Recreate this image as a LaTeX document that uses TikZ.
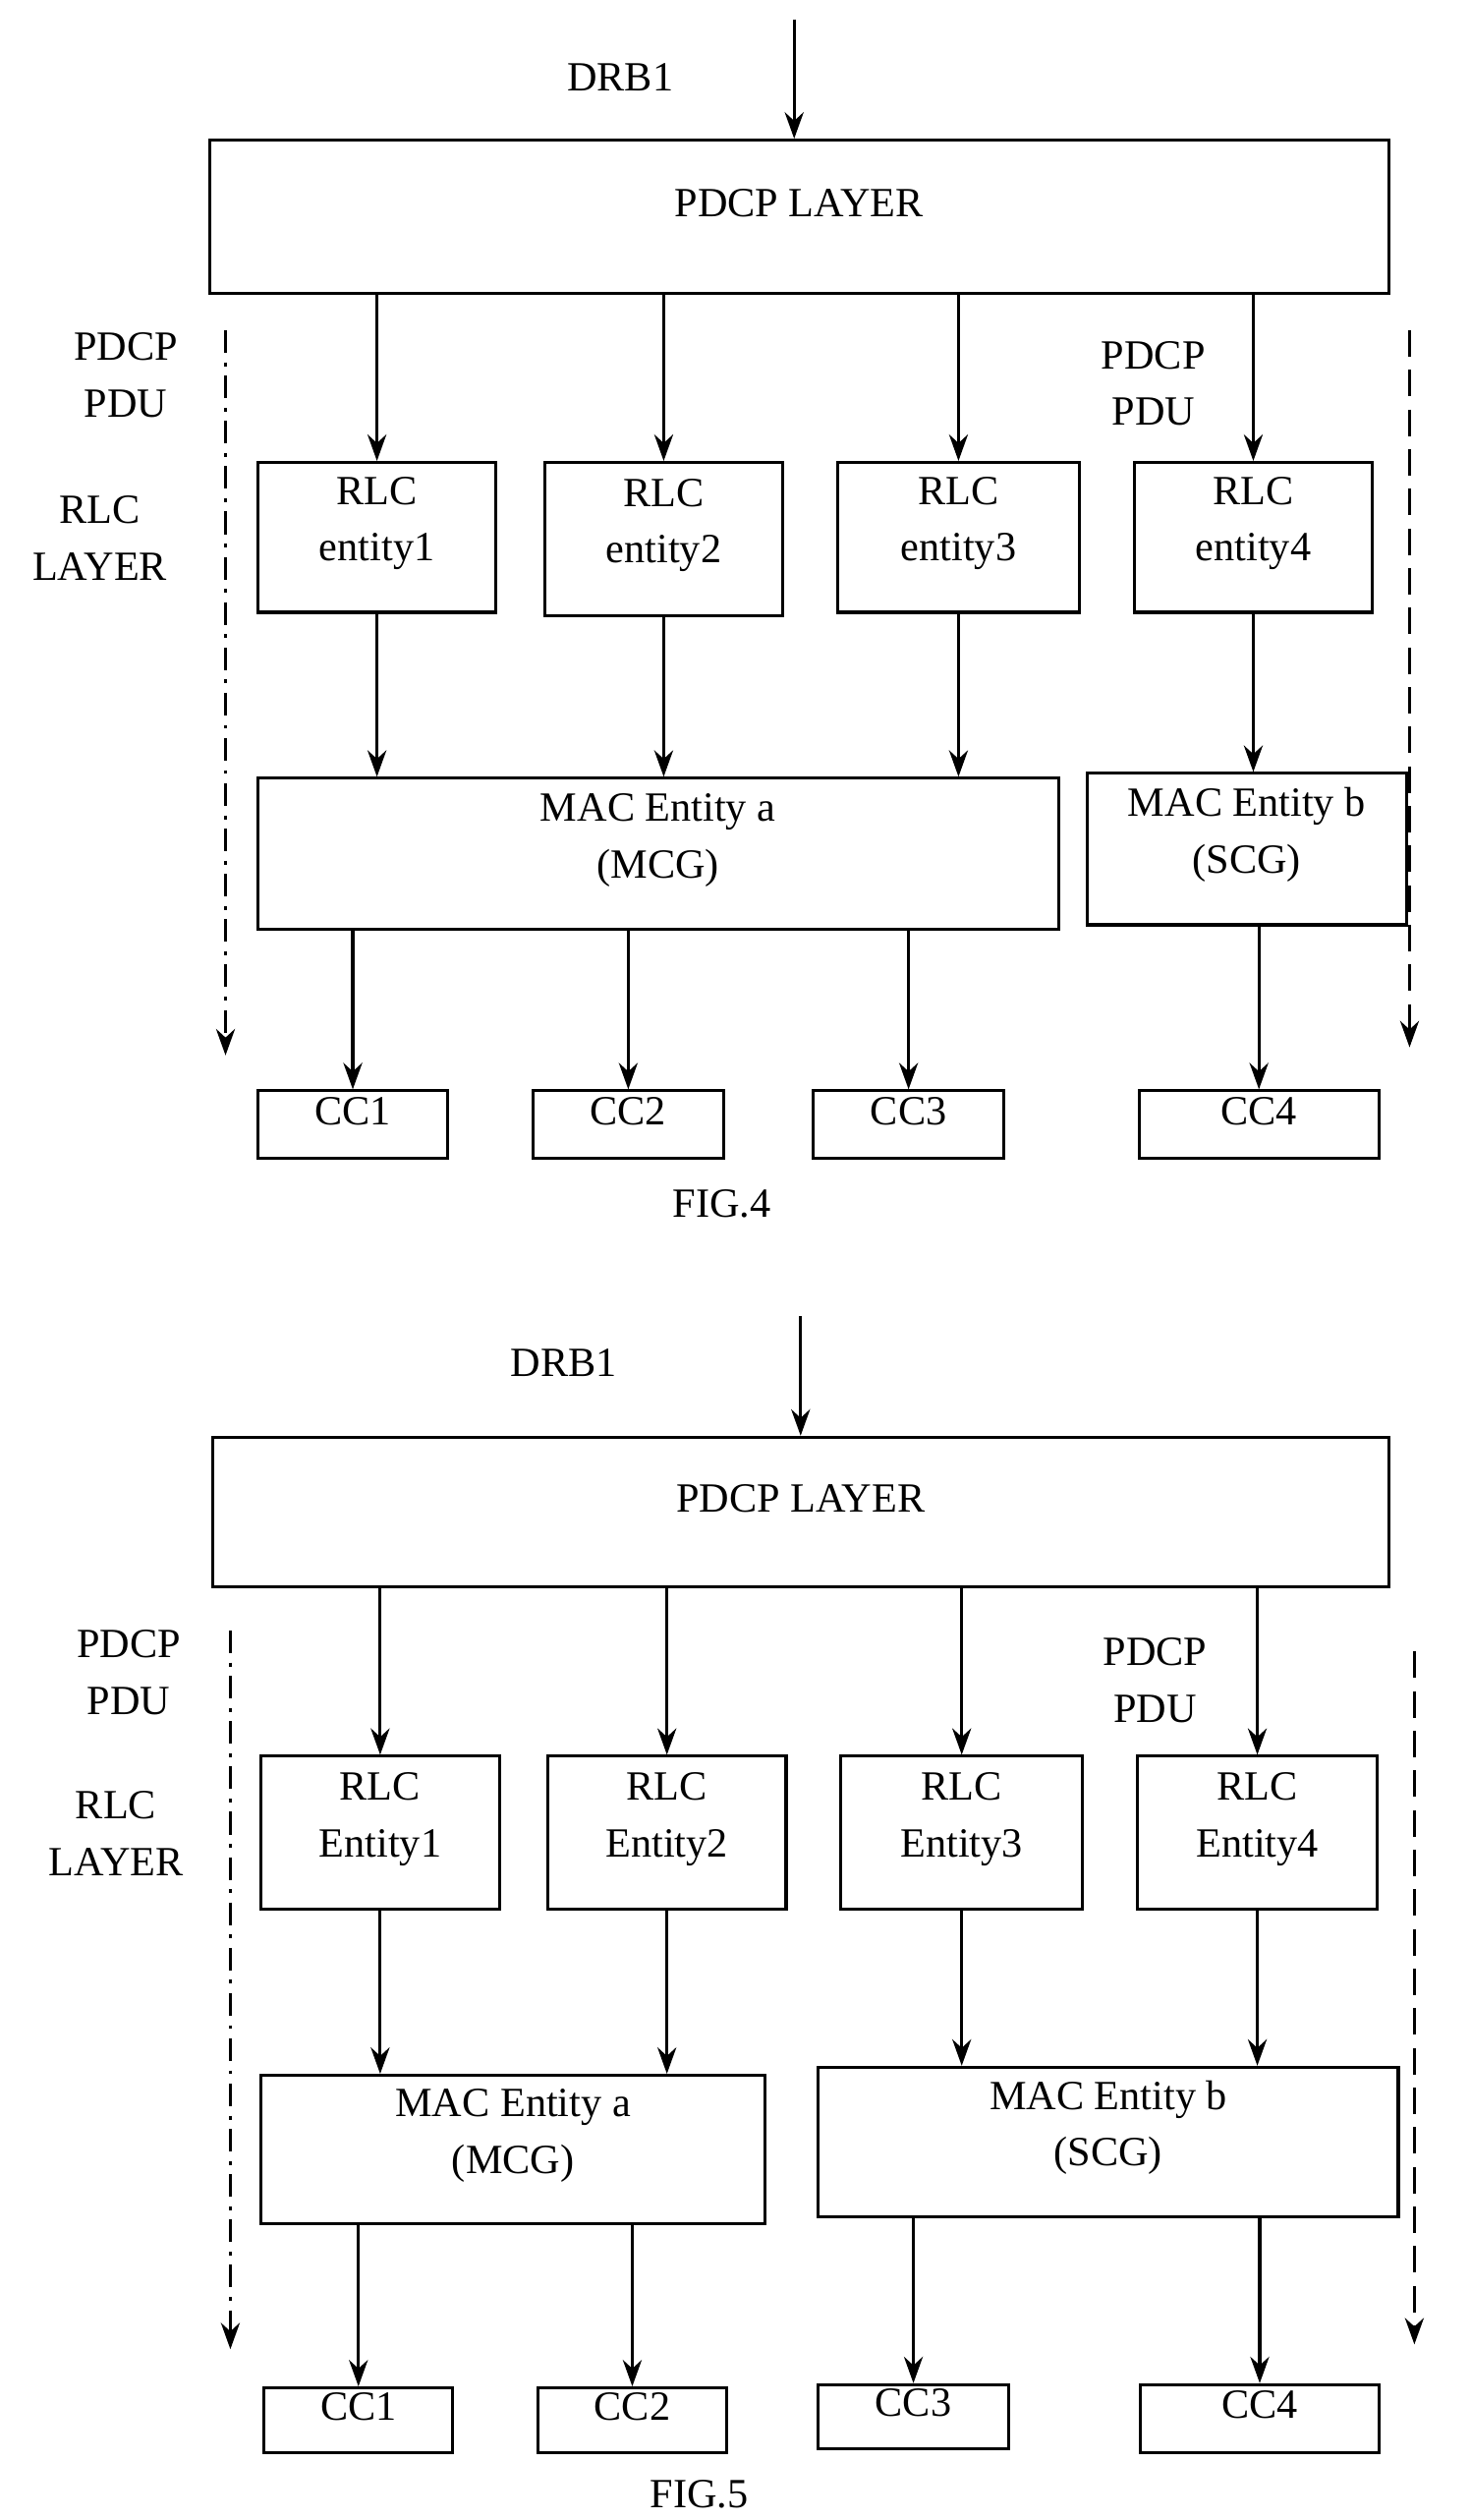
\documentclass[tikz,border=0pt]{standalone}
\usepackage{fontspec}
\setmainfont{Liberation Serif}
\usetikzlibrary{fit,arrows.meta}
\begin{document}
\begin{tikzpicture}[x=0.03cm,y=-0.03cm,
  box/.style={draw,line width=1.6pt,inner sep=0pt,align=center,font=\fontsize{22}{30}\selectfont},
  lbl/.style={align=center,font=\fontsize{22}{30}\selectfont},
  arr/.style={line width=1.6pt,-{Stealth[length=14pt,width=10pt]}},
  dd/.style={arr,dash pattern=on 12pt off 5pt on 2pt off 5pt},
  ds/.style={arr,dash pattern=on 14pt off 7pt}]
\useasboundingbox (0,0) rectangle (913,1564);
% ---------- FIG.4
\node[lbl] (drbA) at (385,48) {DRB1};
\coordinate (inA) at (493,12);
\node[box,fit={(130,87)(862,182)}] (pA) {PDCP LAYER};
\draw[arr] (inA) -- (pA.north -| inA);
\node[box,fit={(160,287)(308,380)}] (rA1) {RLC\\entity1};
\node[box,fit={(338,287)(486,382)}] (rA2) {RLC\\entity2};
\node[box,fit={(520,287)(670,380)}] (rA3) {RLC\\entity3};
\node[box,fit={(704,287)(852,380)}] (rA4) {RLC\\entity4};
\node[lbl] (ppA1) at (78,233) {PDCP\\PDU};
\node[lbl] (rlA) at (62,334) {RLC\\LAYER};
\node[lbl] (ppA2) at (716,238) {PDCP\\PDU};
\coordinate (lA1) at (140,205); \coordinate (lA2) at (140,655);
\coordinate (rgA1) at (875,205); \coordinate (rgA2) at (875,650);
\draw[dd] (lA1) -- (lA2);
\draw[ds] (rgA1) -- (rgA2);
\foreach \i in {1,2,3,4} \draw[arr] (pA.south -| rA\i.north) -- (rA\i.north);
\node[box,fit={(160,483)(657,577)}] (mA1) {MAC Entity a\\(MCG)};
\node[box,fit={(675,480)(873,574)}] (mA2) {MAC Entity b\\(SCG)};
\foreach \i in {1,2,3} \draw[arr] (rA\i.south) -- (rA\i.south |- mA1.north);
\draw[arr] (rA4.south) -- (rA4.south |- mA2.north);
\node[box,fit={(160,677)(278,719)}] (cA1) {CC1};
\node[box,fit={(331,677)(449,719)}] (cA2) {CC2};
\node[box,fit={(505,677)(623,719)}] (cA3) {CC3};
\node[box,fit={(707,677)(856,719)}] (cA4) {CC4};
\foreach \i in {1,2,3} \draw[arr] (mA1.south -| cA\i.north) -- (cA\i.north);
\draw[arr] (mA2.south -| cA4.north) -- (cA4.north);
\node[lbl] (fA) at (448,747) {FIG.4};
% ---------- FIG.5
\node[lbl] (drbB) at (350,846) {DRB1};
\coordinate (inB) at (497,817);
\node[box,fit={(132,892)(862,985)}] (pB) {PDCP LAYER};
\draw[arr] (inB) -- (pB.north -| inB);
\node[box,fit={(162,1090)(310,1185)}] (rB1) {RLC\\Entity1};
\node[box,fit={(340,1090)(488,1185)}] (rB2) {RLC\\Entity2};
\node[box,fit={(522,1090)(672,1185)}] (rB3) {RLC\\Entity3};
\node[box,fit={(706,1090)(855,1185)}] (rB4) {RLC\\Entity4};
\node[lbl] (ppB1) at (80,1038) {PDCP\\PDU};
\node[lbl] (rlB) at (72,1138) {RLC\\LAYER};
\node[lbl] (ppB2) at (717,1043) {PDCP\\PDU};
\coordinate (lB1) at (143,1012); \coordinate (lB2) at (143,1458);
\coordinate (rgB1) at (878,1025); \coordinate (rgB2) at (878,1455);
\draw[dd] (lB1) -- (lB2);
\draw[ds] (rgB1) -- (rgB2);
\foreach \i in {1,2,3,4} \draw[arr] (pB.south -| rB\i.north) -- (rB\i.north);
\node[box,fit={(162,1288)(475,1380)}] (mB1) {MAC Entity a\\(MCG)};
\node[box,fit={(508,1283)(868,1376)}] (mB2) {MAC Entity b\\(SCG)};
\foreach \i in {1,2} \draw[arr] (rB\i.south) -- (rB\i.south |- mB1.north);
\foreach \i in {3,4} \draw[arr] (rB\i.south) -- (rB\i.south |- mB2.north);
\node[box,fit={(164,1482)(281,1522)}] (cB1) {CC1};
\node[box,fit={(334,1482)(451,1522)}] (cB2) {CC2};
\node[box,fit={(508,1480)(626,1520)}] (cB3) {CC3};
\node[box,fit={(708,1480)(856,1522)}] (cB4) {CC4};
\foreach \i in {1,2} \draw[arr] (mB1.south -| cB\i.north) -- (cB\i.north);
\foreach \i in {3,4} \draw[arr] (mB2.south -| cB\i.north) -- (cB\i.north);
\node[lbl] (fB) at (434,1548) {FIG.5};
\end{tikzpicture}
\end{document}
